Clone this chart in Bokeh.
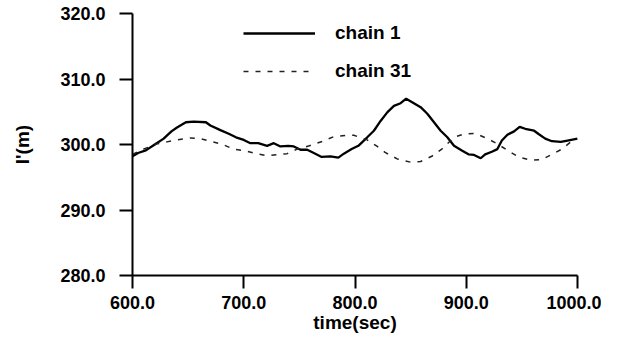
from bokeh.plotting import figure
from bokeh.models import Range1d, FixedTicker, PrintfTickFormatter, Legend, LegendItem
from bokeh.embed import file_html
from bokeh.resources import INLINE

# chain 1 (solid)
t_chain1 = [600, 605, 612, 620, 628, 635, 640, 648, 655, 666, 670, 679, 687, 693, 700, 706, 713,
            721, 727, 733, 740, 745, 751, 757, 763, 770, 778, 785, 790, 797, 803, 811, 817, 823,
            829, 835, 841, 846, 851, 859, 865, 871, 877, 883, 889, 896, 902, 907, 913, 917, 923,
            928, 932, 937, 943, 948, 953, 961, 965, 971, 977, 985, 991, 1000]
v_chain1 = [298.2, 298.7, 299.1, 300.0, 300.9, 302.0, 302.6, 303.4, 303.5, 303.4, 302.9, 302.2,
            301.6, 301.1, 300.7, 300.2, 300.2, 299.8, 300.2, 299.7, 299.8, 299.7, 299.2, 299.2,
            298.7, 298.1, 298.2, 298.0, 298.6, 299.3, 299.8, 301.1, 302.1, 303.6, 304.9, 305.9,
            306.3, 307.0, 306.5, 305.7, 304.7, 303.4, 302.1, 301.1, 299.8, 299.1, 298.5, 298.4,
            297.9, 298.5, 298.9, 299.3, 300.6, 301.5, 302.0, 302.7, 302.4, 302.1, 301.6, 300.9,
            300.5, 300.4, 300.6, 300.9]

# chain 31 (dashed)
t_chain31 = [600, 607, 622, 631, 640, 652, 661, 670, 681, 691, 702, 711, 721, 732, 739, 748, 759,
             771, 781, 792, 799, 811, 820, 827, 838, 850, 859, 869, 878, 889, 898, 908, 919, 928,
             937, 947, 958, 968, 977, 986, 994, 1000]
v_chain31 = [298.5, 299.1, 300.1, 300.4, 300.7, 301.0, 300.9, 300.5, 300.0, 299.3, 299.0, 298.6,
             298.3, 298.5, 298.6, 299.3, 299.8, 300.5, 301.2, 301.4, 301.4, 300.7, 299.7, 298.8,
             297.8, 297.3, 297.4, 298.2, 299.3, 301.1, 301.6, 301.7, 300.9, 300.1, 299.1, 298.1,
             297.6, 297.7, 298.5, 299.3, 300.4, 300.8]

x_ticks = [600, 700, 800, 900, 1000]
y_ticks = [280, 290, 300, 310, 320]
series_names = ["chain 1", "chain 31"]

FONT = "Liberation Sans"

p = figure(width=601, height=337, output_backend="svg", toolbar_location=None,
           x_range=Range1d(600, 1000), y_range=Range1d(280, 320),
           min_border_left=132, min_border_right=24, min_border_top=13, min_border_bottom=62)
p.outline_line_color = None
p.xgrid.visible = False
p.ygrid.visible = False
p.background_fill_color = "white"

r1 = p.line(t_chain1, v_chain1, line_color="black", line_width=2.3)
r2 = p.line(t_chain31, v_chain31, line_color="#222222", line_width=1.5, line_dash="5 7")

for ax, ticks in ((p.xaxis[0], x_ticks), (p.yaxis[0], y_ticks)):
    ax.ticker = FixedTicker(ticks=ticks)
    ax.formatter = PrintfTickFormatter(format="%.1f")
    ax.minor_tick_line_color = None
    ax.major_tick_in = 0
    ax.major_tick_out = 13
    ax.axis_line_width = 2
    ax.major_tick_line_width = 2
    ax.axis_line_color = "black"
    ax.major_tick_line_color = "black"
    ax.major_label_text_font = FONT
    ax.major_label_text_font_style = "bold"
    ax.major_label_text_font_size = "18px"
    ax.major_label_text_color = "black"
    ax.axis_label_text_font = FONT
    ax.axis_label_text_font_style = "bold"
    ax.axis_label_text_font_size = "19px"
    ax.axis_label_text_color = "black"

p.xaxis.axis_label = "time(sec)"
p.xaxis.major_label_standoff = 7
p.xaxis.axis_label_standoff = 0
p.yaxis.axis_label = "l'(m)"
p.yaxis.major_label_standoff = 14
p.yaxis.axis_label_standoff = 24

legend = Legend(items=[LegendItem(label=series_names[0], renderers=[r1]),
                       LegendItem(label=series_names[1], renderers=[r2])],
                location=(111, 193), orientation="vertical")
legend.border_line_color = None
legend.background_fill_alpha = 0
legend.padding = 0
legend.margin = 0
legend.spacing = 16
legend.glyph_width = 72
legend.glyph_height = 20
legend.label_height = 20
legend.label_standoff = 20
legend.label_text_font = FONT
legend.label_text_font_style = "bold"
legend.label_text_font_size = "19px"
legend.label_text_color = "black"
p.add_layout(legend, "center")

open("out.html", "w").write(file_html(p, INLINE))
